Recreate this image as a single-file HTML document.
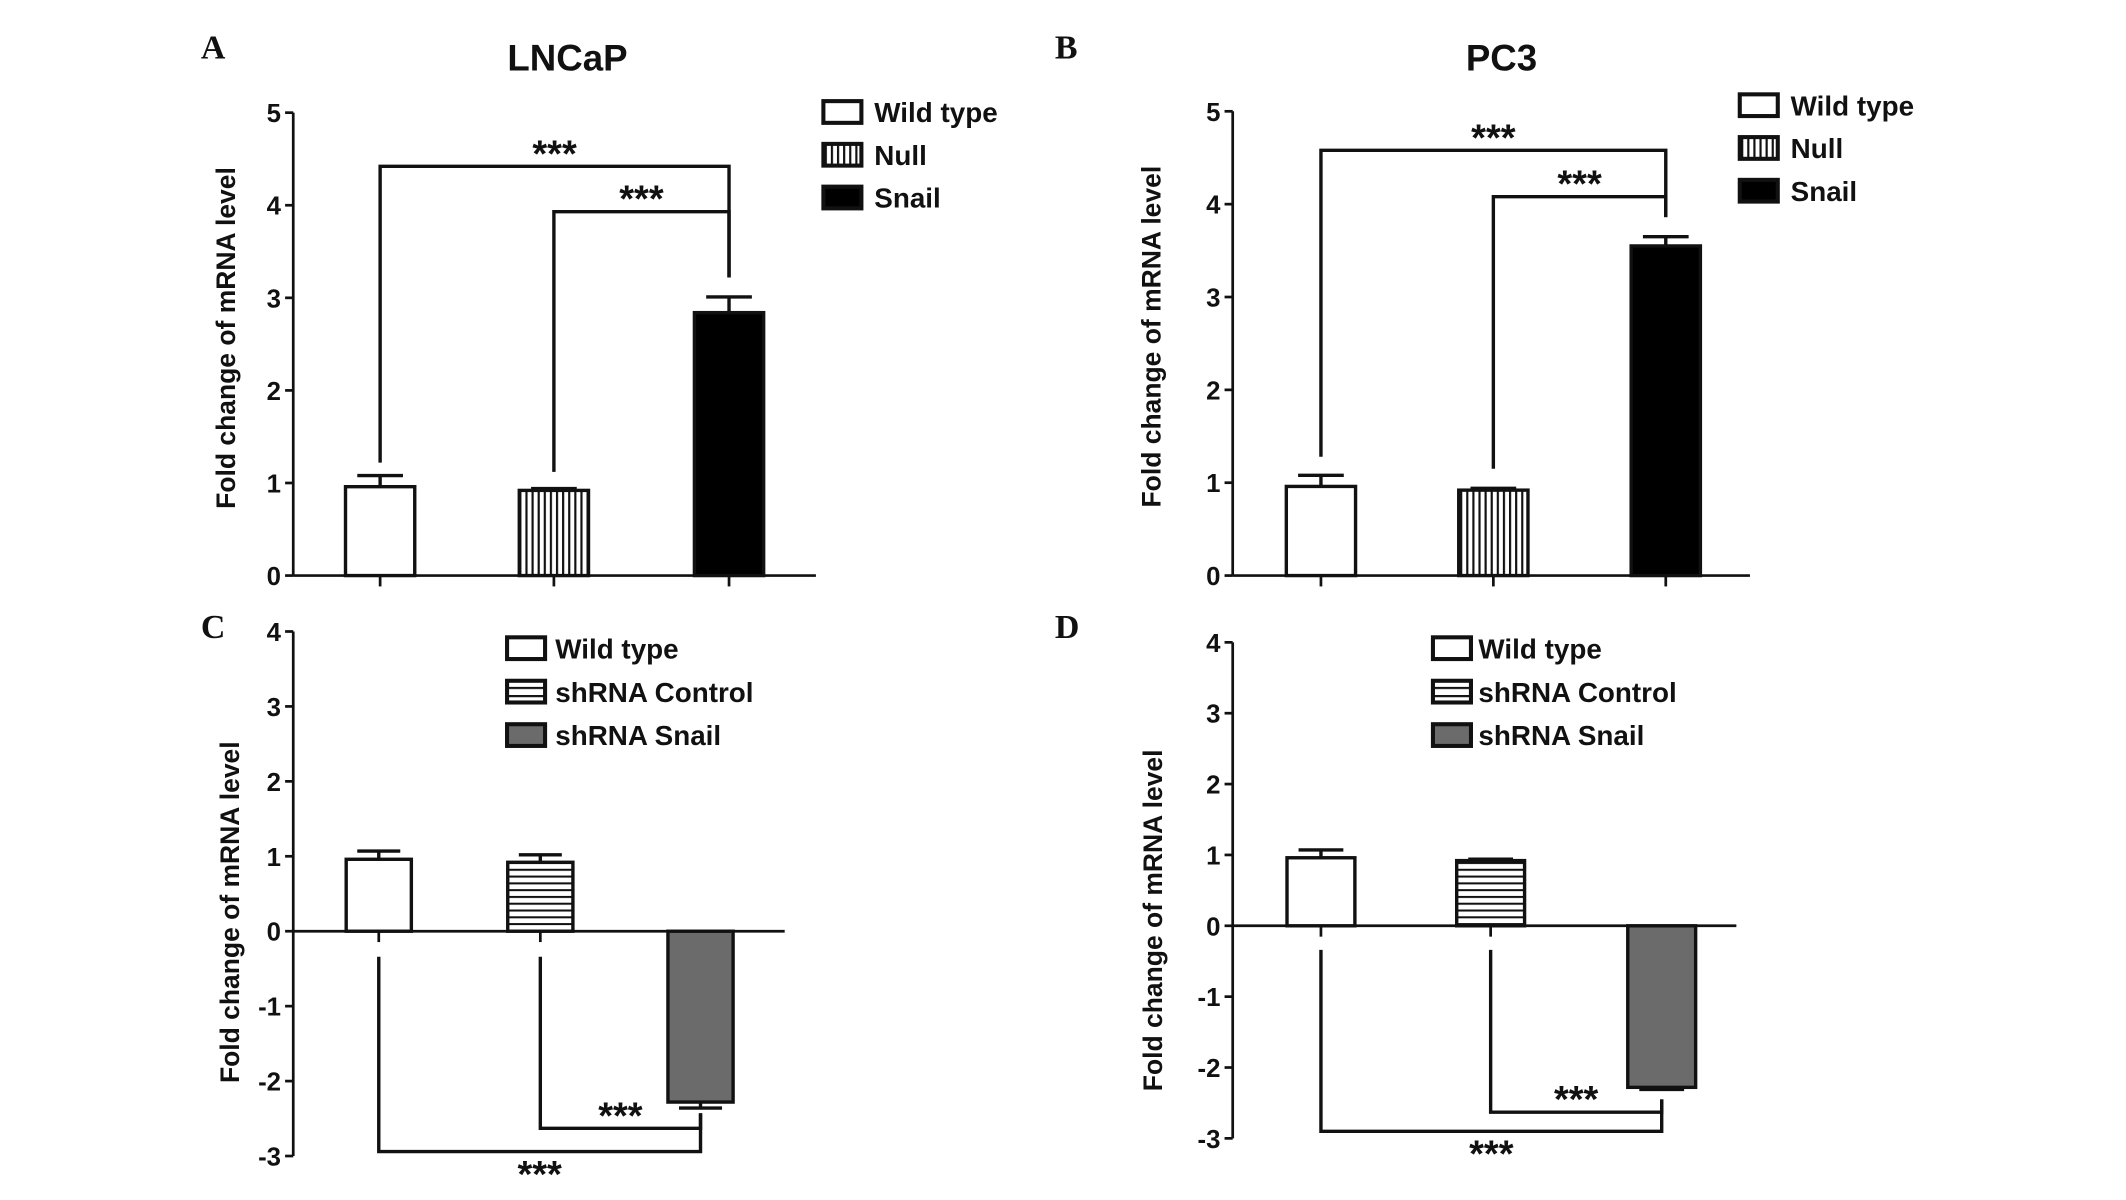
<!DOCTYPE html>
<html><head><meta charset="utf-8"><style>
html,body{margin:0;padding:0;background:#fff;}
svg{display:block;}
text{font-family:"Liberation Sans",Arial,sans-serif;font-weight:bold;fill:#111;}
</style></head><body>
<svg id="fig" xmlns="http://www.w3.org/2000/svg" width="2126" height="1200" viewBox="0 0 1566 884" preserveAspectRatio="none">
<defs>
<pattern id="vstripe" width="4.5" height="10" patternUnits="userSpaceOnUse"><rect width="4.5" height="10" fill="#fff"/><rect width="1.6" height="10" fill="#111"/></pattern>
<pattern id="hstripe" width="10" height="5" patternUnits="userSpaceOnUse"><rect width="10" height="5" fill="#fff"/><rect width="10" height="1.5" fill="#111"/></pattern>
<pattern id="hstripeL" width="10" height="6" patternUnits="userSpaceOnUse" y="2"><rect width="10" height="6" fill="#fff"/><rect width="10" height="1.6" fill="#111"/></pattern>
</defs>
</svg>
<script>
// Panel A: LNCaP
const catsA = ["Wild type", "Null", "Snail"];
const valsA = [0.96, 0.92, 2.84];
const errsA = [0.12, 0.02, 0.17];
const ticksA = [0, 1, 2, 3, 4, 5];
// Panel B: PC3
const catsB = ["Wild type", "Null", "Snail"];
const valsB = [0.96, 0.92, 3.55];
const errsB = [0.12, 0.02, 0.10];
const ticksB = [0, 1, 2, 3, 4, 5];
// Panel C
const catsC = ["Wild type", "shRNA Control", "shRNA Snail"];
const valsC = [0.96, 0.92, -2.28];
const errsC = [0.11, 0.10, 0.08];
const ticksC = [-3, -2, -1, 0, 1, 2, 3, 4];
// Panel D
const catsD = ["Wild type", "shRNA Control", "shRNA Snail"];
const valsD = [0.96, 0.92, -2.28];
const errsD = [0.11, 0.02, 0.03];
const ticksD = [-3, -2, -1, 0, 1, 2, 3, 4];

const NS = "http://www.w3.org/2000/svg";
const svg = document.getElementById("fig");
function mk(tag, attrs, parent, txt){
  const e = document.createElementNS(NS, tag);
  for (const k in attrs) e.setAttribute(k, attrs[k]);
  if (txt !== undefined) e.textContent = txt;
  (parent || svg).appendChild(e);
  return e;
}

function panel(p){
  const g = mk("g", {});
  
  
  const y = v => p.y0 - (v - p.base) * p.k;
  const zeroY = y(0);
  const lt = mk("text", {x:p.lx, y:p.ly, "font-size":25, style:"font-family:'Liberation Serif',serif;font-weight:bold"}, g, p.id);
  
  
  if (p.title){
    const t = mk("text", {x:p.tx, y:52, "font-size":27, "text-anchor":"middle"}, g, p.title);
    
    
  }
  const ax = mk("line", {x1:p.ax, x2:p.ax, y1:y(p.ticks[p.ticks.length-1]), y2:y(p.ticks[0]), stroke:"#111", "stroke-width":2}, g);
  
  
  p.ticks.forEach(t => {
    const tl = mk("line", {x1:p.ax-6, x2:p.ax, y1:y(t), y2:y(t), stroke:"#111", "stroke-width":2}, g);
    
    
    const tx = mk("text", {x:p.ax-9, y:y(t)+7, "font-size":19, "text-anchor":"end"}, g, String(t));
    
    
  });
  const xa = mk("line", {x1:p.ax, x2:p.axEnd, y1:zeroY, y2:zeroY, stroke:"#111", "stroke-width":2}, g);
  
  
  const yt = mk("text", {x:0, y:0, "font-size":19.5, "text-anchor":"middle", transform:`translate(${p.ylx},${p.yly}) rotate(-90)`}, g, "Fold change of mRNA level");
  
  
  p.vals.forEach((v, i) => {
    const cx = p.cx[i], w = p.bw;
    const top = Math.min(y(v), zeroY), h = Math.abs(y(v) - zeroY);
    const tk = mk("line", {x1:cx, x2:cx, y1:zeroY, y2:zeroY+8, stroke:"#111", "stroke-width":2}, g);
    
    
    const sgn = v >= 0 ? 1 : -1;
    const eEnd = y(v + sgn * p.errs[i]);
    const el = mk("line", {x1:cx, x2:cx, y1:y(v), y2:eEnd, stroke:"#111", "stroke-width":2.5}, g);
    
    
    const ec = mk("line", {x1:cx-w*0.33, x2:cx+w*0.33, y1:eEnd, y2:eEnd, stroke:"#111", "stroke-width":2.5}, g);
    
    
    const r = mk("rect", {x:cx-w/2, y:top, width:w, height:h, fill:p.fills[i], stroke:"#111", "stroke-width":2.5}, g);
    
    
  });
  p.sig.forEach(s => {
    const x1 = p.cx[s.from], x2 = p.cx[s.to];
    const ly = y(s.level);
    const path = mk("path", {d:`M${x1},${y(s.start)} V${ly} H${x2} V${y(s.end)}`, fill:"none", stroke:"#111", "stroke-width":2.5}, g);
    
    
    const sy = s.below ? ly + 26 : ly;
    const st = mk("text", {x:(x1+x2)/2, y:sy, "font-size":28, "text-anchor":"middle"}, g, "***");
    
    
  });
  p.cats.forEach((c, i) => {
    const by = p.legY + i * p.legDy;
    const lg = mk("g", {}, g);
    
    
    mk("rect", {x:p.legX+1.5, y:by+1.5, width:28, height:16, fill:p.legFills[i], stroke:"#111", "stroke-width":3}, lg);
    mk("text", {x:p.legX+p.legTx, y:by+17, "font-size":20.5}, lg, c);
  });
}

const hatchFillsPos = ["#fff", "url(#vstripe)", "#000"];
const legPos = ["#fff", "url(#vstripe)", "#000"];
const hatchFillsNeg = ["#fff", "url(#hstripe)", "#6b6b6b"];
const legNeg = ["#fff", "url(#hstripeL)", "#6b6b6b"];

panel({id:"A", title:"LNCaP", tx:418, lx:148, ly:43, cats:catsA, vals:valsA, errs:errsA, ticks:ticksA,
  base:0, y0:424, k:68.2, ax:216, axEnd:601, ylx:173, yly:249, cx:[280,408,537], bw:51, fills:hatchFillsPos,
  sig:[{from:0,to:2,level:4.42,start:1.22,end:3.22},{from:1,to:2,level:3.93,start:1.12,end:3.22}],
  legX:605, legY:73, legDy:31.5, legTx:39, legFills:legPos});
panel({id:"B", title:"PC3", tx:1106, lx:777, ly:43, cats:catsB, vals:valsB, errs:errsB, ticks:ticksB,
  base:0, y0:424, k:68.4, ax:908, axEnd:1289, ylx:855, yly:248, cx:[973,1100,1227], bw:51, fills:hatchFillsPos,
  sig:[{from:0,to:2,level:4.58,start:1.28,end:3.86},{from:1,to:2,level:4.08,start:1.15,end:3.86}],
  legX:1280, legY:68, legDy:31.5, legTx:39, legFills:legPos});
panel({id:"C", title:null, lx:148, ly:470, cats:catsC, vals:valsC, errs:errsC, ticks:ticksC,
  base:0, y0:686, k:55.2, ax:216, axEnd:578, ylx:176, yly:672, cx:[279,398,516], bw:48, fills:hatchFillsNeg,
  sig:[{from:0,to:2,level:-2.94,start:-0.34,end:-2.43,below:true},{from:1,to:2,level:-2.63,start:-0.34,end:-2.43}],
  legX:372, legY:468, legDy:32, legTx:37, legFills:legNeg});
panel({id:"D", title:null, lx:777, ly:470, cats:catsD, vals:valsD, errs:errsD, ticks:ticksD,
  base:0, y0:682, k:52.2, ax:908, axEnd:1279, ylx:856, yly:678, cx:[973,1098,1224], bw:50, fills:hatchFillsNeg,
  sig:[{from:0,to:2,level:-2.9,start:-0.34,end:-2.45,below:true},{from:1,to:2,level:-2.63,start:-0.34,end:-2.45}],
  legX:1054, legY:468, legDy:32, legTx:35, legFills:legNeg});
</script>
</body></html>
